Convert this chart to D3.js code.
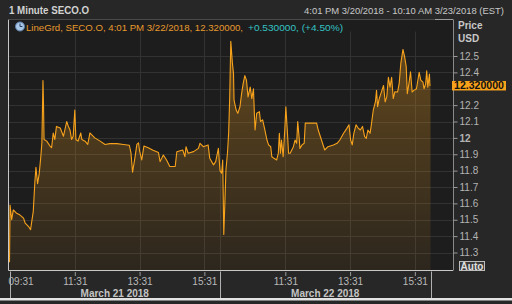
<!DOCTYPE html>
<html lang="en">
<head>
  <meta charset="UTF-8">
  <title>1 Minute SECO.O</title>
  <style>
    body { margin: 0; background: #272727; overflow: hidden; }
    svg { display: block; }
    text { font-family: "Liberation Sans", Arial, sans-serif; }
  </style>
</head>
<body>
  <script src="https://d3js.org/d3.v7.min.js"></script>
  <script>
    'use strict';

    // minutes since 09:30 for each session, with the price
    const day1Minutes = [0, 1, 4, 7, 13, 19, 26, 29, 35, 39, 44, 47, 49, 52, 55, 58, 60, 62, 63, 64,
      69, 75, 78, 81, 84, 87, 94, 100, 106, 109, 112, 115, 118, 121, 123, 127, 132, 134, 140, 145,
      149, 152, 158, 168, 177, 186, 199, 211, 222, 225, 228, 232, 236, 239, 241, 245, 249, 257, 266, 276,
      279, 285, 291, 297, 307, 310, 321, 325, 327, 331, 341, 350, 353, 359, 368, 371, 378, 382, 387, 390];
    const day1Prices = [11.24, 11.59, 11.50, 11.56, 11.54, 11.53, 11.51, 11.48, 11.46, 11.44, 11.55, 11.73, 11.82, 11.72, 11.78, 11.885, 11.97, 12.35, 12.21, 11.99,
      11.98, 11.95, 11.94, 12.03, 11.99, 12.07, 12.06, 12.01, 12.10, 12.07, 12.05, 11.99, 12.01, 12.17, 11.99, 11.98, 12.03, 11.99, 11.98, 11.96,
      12.03, 12.02, 12.00, 11.98, 11.96, 11.965, 11.965, 11.96, 11.955, 11.91, 11.79, 11.87, 11.96, 11.97, 11.92, 11.865, 11.95, 11.94, 11.925, 11.91,
      11.855, 11.895, 11.865, 11.825, 11.825, 11.915, 11.926, 11.885, 11.946, 11.906, 11.916, 11.936, 11.967, 11.946, 11.957, 11.875, 11.835, 11.855, 11.936, 11.80];

    const day2Minutes = [3, 5, 6, 7, 9, 11, 14, 16, 18, 20, 23, 25, 26, 30, 33, 37, 40, 43, 46, 49,
      52, 56, 59, 62, 64, 65, 68, 73, 75, 79, 83, 87, 90, 94, 96, 100, 105, 108, 110, 112,
      114, 117, 120, 122, 125, 127, 130, 133, 136, 139, 142, 144, 147, 148, 152, 156, 158, 167, 179, 182,
      188, 194, 200, 210, 217, 222, 229, 235, 239, 242, 245, 248, 252, 256, 260, 264, 268, 271, 274, 278,
      280, 284, 288, 290, 292, 295, 300, 303, 306, 309, 312, 315, 318, 321, 324, 329, 332, 335, 339, 342,
      345, 347, 350, 353, 356, 359, 364, 369, 372, 376, 378, 381, 383, 385, 388, 389, 390];
    const day2Prices = [11.784, 11.865, 11.64, 11.41, 11.60, 11.804, 11.915, 12.028, 12.25, 12.59, 12.455, 12.394, 12.23, 12.17, 12.15, 12.19, 12.27, 12.333, 12.38, 12.353,
      12.25, 12.31, 12.24, 12.30, 12.12, 12.048, 12.15, 12.16, 12.10, 12.11, 12.05, 11.987, 11.957, 11.946, 11.885, 11.875, 11.865, 11.906, 12.028, 11.906,
      11.987, 11.885, 12.048, 12.19, 12.028, 11.906, 11.906, 11.926, 11.946, 11.987, 11.967, 12.10, 11.987, 11.936, 11.957, 11.967, 12.09, 12.09, 12.09, 12.048,
      11.987, 11.926, 11.946, 11.957, 11.967, 11.987, 12.028, 12.058, 12.08, 11.987, 11.957, 12.028, 12.08, 12.06, 12.048, 12.07, 12.007, 11.997, 12.048, 12.028,
      12.07, 12.17, 12.221, 12.29, 12.19, 12.24, 12.29, 12.32, 12.22, 12.25, 12.37, 12.31, 12.37, 12.24, 12.282, 12.28, 12.333, 12.455, 12.54, 12.496,
      12.435, 12.27, 12.33, 12.404, 12.28, 12.29, 12.30, 12.40, 12.353, 12.34, 12.30, 12.33, 12.41, 12.31, 12.39, 12.32, 12.32];

    const sessionLength = 390;
    const timeTicks = [1, 121, 241, 361, 511, 631, 751];
    const timeTickLabels = ['09:31', '11:31', '13:31', '15:31', '11:31', '13:31', '15:31'];
    const dayBounds = [0, 390, 780];
    const dayLabels = ['March 21 2018', 'March 22 2018'];
    const priceTicks = [11.3, 11.4, 11.5, 11.6, 11.7, 11.8, 11.9, 12, 12.1, 12.2, 12.3, 12.4, 12.5];
    const lastPrice = 12.32;

    const width = 512;
    const height = 304;
    const plotLeft = 8;
    const plotRight = 453;
    const plotTop = 19.5;
    const plotBottom = 270.5;

    const orange = '#f7a21b';

    const series = [];
    day1Minutes.forEach((m, i) => series.push({ t: m, v: day1Prices[i] }));
    day2Minutes.forEach((m, i) => series.push({ t: sessionLength + m, v: day2Prices[i] }));

    const x = d3.scaleLinear().domain([0, 780]).range([9.5, 430.5]);
    const y = d3.scaleLinear().domain([11.3, 12.5]).range([252.5, 56]);

    const svg = d3.select('body').append('svg')
      .attr('width', width)
      .attr('height', height);

    const defs = svg.append('defs');
    const grad = defs.append('linearGradient')
      .attr('id', 'fillGrad')
      .attr('x1', 0).attr('y1', 0).attr('x2', 0).attr('y2', 1);
    grad.append('stop').attr('offset', '0%').attr('stop-color', orange).attr('stop-opacity', 0.32);
    grad.append('stop').attr('offset', '100%').attr('stop-color', orange).attr('stop-opacity', 0.07);

    svg.append('rect').attr('width', width).attr('height', height).attr('fill', '#272727');

    // plot panel
    svg.append('rect')
      .attr('x', plotLeft).attr('y', plotTop)
      .attr('width', plotRight - plotLeft).attr('height', plotBottom - plotTop)
      .attr('fill', '#1d1d1e');

    // grid
    svg.append('g').selectAll('line').data(priceTicks).enter().append('line')
      .attr('x1', plotLeft).attr('x2', plotRight)
      .attr('y1', d => Math.round(y(d)) + 0.5).attr('y2', d => Math.round(y(d)) + 0.5)
      .attr('stroke', '#323232');
    svg.append('g').selectAll('line').data(timeTicks.slice(1).concat([390])).enter().append('line')
      .attr('x1', d => Math.round(x(d)) + 0.5).attr('x2', d => Math.round(x(d)) + 0.5)
      .attr('y1', plotTop + 12).attr('y2', plotBottom)
      .attr('stroke', '#323232');

    // area + line
    svg.append('path')
      .datum(series)
      .attr('fill', 'url(#fillGrad)')
      .attr('d', d3.area().x(d => x(d.t)).y0(plotBottom).y1(d => y(d.v)));
    svg.append('path')
      .datum(series)
      .attr('fill', 'none')
      .attr('stroke', orange)
      .attr('stroke-width', 1.1)
      .attr('stroke-linejoin', 'round')
      .attr('d', d3.line().x(d => x(d.t)).y(d => y(d.v)));

    // frame
    svg.append('path')
      .attr('d', `M${plotLeft + 0.5},${plotTop} V${plotBottom} H${plotRight}`)
      .attr('fill', 'none').attr('stroke', '#c8c8c8');
    svg.append('path')
      .attr('d', `M${plotLeft + 0.5},${plotTop} H${plotRight}`)
      .attr('fill', 'none').attr('stroke', '#4a4a4a');
    svg.append('path')
      .attr('d', `M435,${plotTop} H${plotRight}`)
      .attr('fill', 'none').attr('stroke', '#9a9a9a');

    // price axis
    const yAxis = d3.axisRight(y)
      .tickValues(priceTicks.filter(d => d !== 12.3))
      .tickSize(4)
      .tickPadding(2)
      .tickFormat(d => d3.format('.1f')(d).replace('.0', ''));
    const yg = svg.append('g')
      .attr('transform', `translate(${plotRight + 0.5},0)`)
      .call(yAxis);
    yg.select('.domain').attr('stroke', '#8a8a8a').attr('d', `M0,${plotTop}V${plotBottom}`);
    yg.selectAll('.tick line').attr('stroke', '#9a9a9a');
    yg.selectAll('.tick text')
      .attr('fill', '#b4b4b4')
      .attr('font-size', 10)
      .attr('font-family', '"Liberation Sans", Arial, sans-serif')
      .attr('font-weight', d => d === 12 ? 'bold' : 'normal');

    svg.append('text').attr('x', 458).attr('y', 29)
      .attr('font-size', 10).attr('font-weight', 'bold').attr('fill', '#c8c8c8').text('Price');
    svg.append('text').attr('x', 458).attr('y', 42)
      .attr('font-size', 10).attr('font-weight', 'bold').attr('fill', '#c8c8c8').text('USD');

    // last price flag
    svg.append('rect')
      .attr('x', 452).attr('y', y(lastPrice) - 4.5)
      .attr('width', 54).attr('height', 9.5)
      .attr('fill', orange);
    svg.append('text')
      .attr('x', 454).attr('y', y(lastPrice) + 4)
      .attr('font-size', 10).attr('font-weight', 'bold').attr('fill', '#111')
      .attr('textLength', 50).attr('lengthAdjust', 'spacingAndGlyphs')
      .text(d3.format('.6f')(lastPrice));

    // Auto button
    svg.append('rect')
      .attr('x', 459.5).attr('y', 261.5).attr('width', 25).attr('height', 9)
      .attr('fill', '#3a3a3a').attr('stroke', '#bdbdbd');
    svg.append('text')
      .attr('x', 472).attr('y', 269.5).attr('text-anchor', 'middle')
      .attr('font-size', 10).attr('font-weight', 'bold').attr('fill', '#e0e0e0').text('Auto');

    // time axis
    const xAxis = d3.axisBottom(x)
      .tickValues(timeTicks)
      .tickSize(4)
      .tickPadding(2)
      .tickFormat((d, i) => timeTickLabels[i]);
    const xg = svg.append('g')
      .attr('transform', `translate(0,${plotBottom + 1.5})`)
      .call(xAxis);
    xg.select('.domain').remove();
    xg.selectAll('.tick line').attr('stroke', '#9a9a9a');
    xg.selectAll('.tick text')
      .attr('fill', '#b8b8b8')
      .attr('font-size', 10)
      .attr('font-family', '"Liberation Sans", Arial, sans-serif')
      .attr('text-anchor', (d, i) => i === 0 ? 'start' : 'middle')
      .attr('dx', (d, i) => i === 0 ? -2 : 0);

    svg.append('g').selectAll('line').data(dayBounds).enter().append('line')
      .attr('x1', d => Math.round(x(d)) + 0.5).attr('x2', d => Math.round(x(d)) + 0.5)
      .attr('y1', plotBottom + 1).attr('y2', 298)
      .attr('stroke', '#b0b0b0');

    svg.append('g').selectAll('text').data(dayLabels).enter().append('text')
      .attr('x', (d, i) => (x(dayBounds[i]) + x(dayBounds[i + 1])) / 2)
      .attr('y', 296.5)
      .attr('text-anchor', 'middle')
      .attr('font-size', 10).attr('font-weight', 'bold').attr('fill', '#c4c4c4')
      .text(d => d);

    svg.append('rect').attr('x', 0).attr('y', 298).attr('width', width).attr('height', 2.5)
      .attr('fill', '#e2e2e2');

    // header
    svg.append('text').attr('x', 9).attr('y', 14)
      .attr('font-size', 10).attr('font-weight', 'bold').attr('fill', '#d2d2d2')
      .attr('textLength', 80).attr('lengthAdjust', 'spacingAndGlyphs')
      .text('1 Minute SECO.O');
    svg.append('text').attr('x', 304).attr('y', 14)
      .attr('font-size', 9).attr('fill', '#c8c8c8')
      .attr('textLength', 200).attr('lengthAdjust', 'spacingAndGlyphs')
      .text('4:01 PM 3/20/2018 - 10:10 AM 3/23/2018 (EST)');

    // legend
    const icon = svg.append('g').attr('transform', 'translate(20,26.5)');
    icon.append('circle').attr('r', 4.5).attr('fill', '#a9c8e8').attr('stroke', '#5d7fa6');
    icon.append('path').attr('d', 'M0,-3V0H2.5').attr('fill', 'none').attr('stroke', '#2a3f5c').attr('stroke-width', 1);
    svg.append('text').attr('x', 26).attr('y', 30.5)
      .attr('font-size', 9.5).attr('fill', '#e89a2c')
      .attr('textLength', 217).attr('lengthAdjust', 'spacingAndGlyphs')
      .text('LineGrd, SECO.O, 4:01 PM 3/22/2018, 12.320000,');
    svg.append('text').attr('x', 248).attr('y', 30.5)
      .attr('font-size', 9.5).attr('fill', '#33c3c3')
      .attr('textLength', 95).attr('lengthAdjust', 'spacingAndGlyphs')
      .text('+0.530000, (+4.50%)');
  </script>
</body>
</html>
